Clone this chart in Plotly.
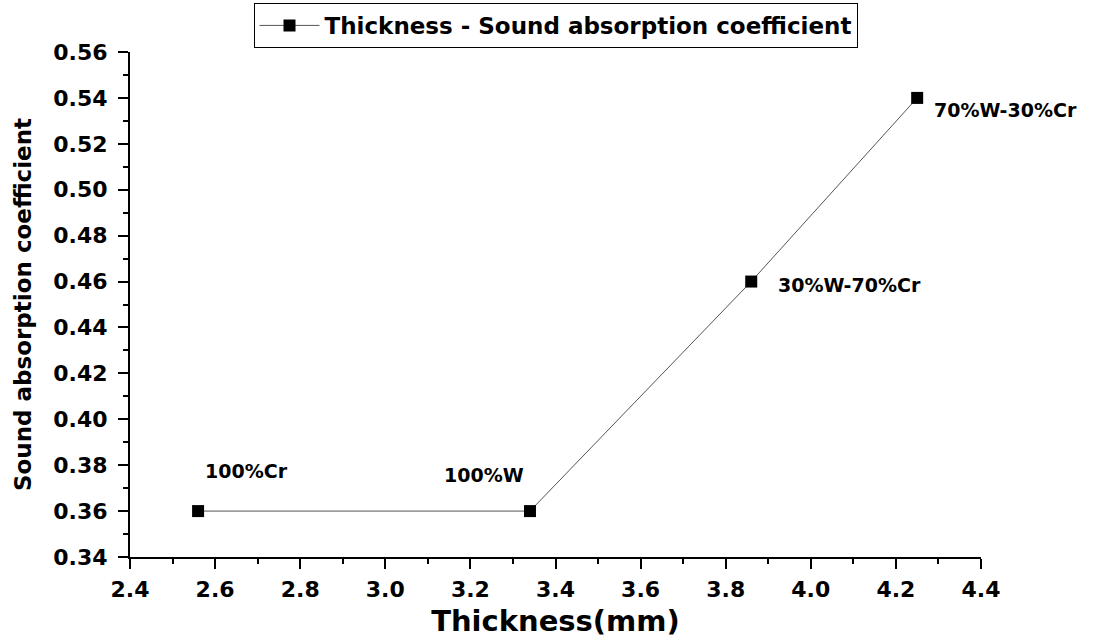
import plotly.graph_objects as go

# Data
thickness = [2.56, 3.34, 3.86, 4.25]
absorption = [0.36, 0.36, 0.46, 0.54]
labels = ["100%Cr", "100%W", "30%W-70%Cr", "70%W-30%Cr"]
series_name = "Thickness - Sound absorption coefficient"
x_title = "Thickness(mm)"
y_title = "Sound absorption coefficient"

# label offsets (pixels) and anchors
label_xshift = [48, -46, 25, 15]
label_yshift = [40, 36, -3, -12]
label_xanchor = ["center", "center", "left", "left"]

FONT = "DejaVu Sans"

fig = go.Figure()
fig.add_trace(go.Scatter(
    x=thickness, y=absorption, mode="lines+markers", name=series_name,
    line=dict(color="#555555", width=1),
    marker=dict(symbol="square", size=12, color="black"),
    showlegend=True,
))

for xv, yv, t, dx, dy, xa in zip(thickness, absorption, labels, label_xshift, label_yshift, label_xanchor):
    fig.add_annotation(x=xv, y=yv, xref="x", yref="y", text=t, showarrow=False,
                       xshift=dx, yshift=dy, xanchor=xa, yanchor="middle",
                       font=dict(family=FONT, size=19, color="black", weight=700))

axis_common = dict(
    showline=True, linecolor="black", linewidth=2, mirror=False,
    ticks="outside", ticklen=10, tickwidth=2, tickcolor="black",
    showgrid=False, zeroline=False,
    tickfont=dict(family=FONT, size=22, color="black", weight=700),
)

fig.update_xaxes(
    range=[2.4, 4.4], dtick=0.2, tick0=2.4, tickformat=".1f",
    minor=dict(ticks="outside", ticklen=5, tickwidth=2, tickcolor="black", dtick=0.1, showgrid=False),
    title=dict(text=x_title, font=dict(family=FONT, size=29, color="black", weight=700), standoff=9),
    ticklabelstandoff=2,
    **axis_common,
)
fig.update_yaxes(
    range=[0.34, 0.56], dtick=0.02, tick0=0.34, tickformat=".2f",
    minor=dict(ticks="outside", ticklen=5, tickwidth=2, tickcolor="black", dtick=0.01, showgrid=False),
    title=dict(text=y_title, font=dict(family=FONT, size=23, color="black", weight=700), standoff=15),
    ticklabelstandoff=6,
    **axis_common,
)

fig.update_layout(
    width=1097, height=640,
    margin=dict(l=130, r=116, t=52, b=83, autoexpand=False),
    paper_bgcolor="white", plot_bgcolor="white",
    showlegend=True,
    legend=dict(
        x=0.5, xanchor="center", y=1.008, yanchor="bottom",
        bordercolor="black", borderwidth=1, bgcolor="white",
        font=dict(family=FONT, size=23, color="black", weight=700),
        itemwidth=60, tracegroupgap=0,
    ),
)

fig.write_html("out.html")
